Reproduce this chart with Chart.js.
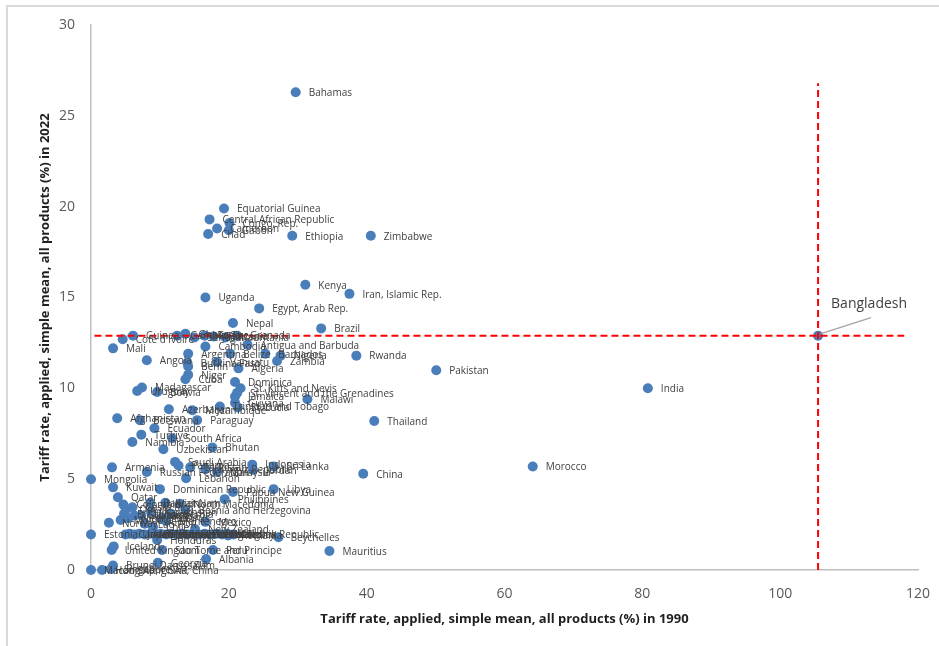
<!DOCTYPE html>
<html>
<head>
<meta charset="utf-8">
<script src="https://cdn.jsdelivr.net/npm/chart.js@4.4.0/dist/chart.umd.min.js"></script>
<style>
  body { margin: 0; overflow: hidden; background: #fff; }
  #frame { position: absolute; left: 6px; top: 5px; width: 1000px; height: 700px; border: 2px solid #d9d9d9; }
  canvas { position: absolute; left: 0; top: 0; }
</style>
</head>
<body>
<div id="frame"></div>
<canvas id="scatter" width="939" height="646"></canvas>
<script>
// countries and their tariff rates (simple mean, %)
var countries = [
  "Bahamas", "Equatorial Guinea", "Central African Republic", "Congo, Rep.", "Cameroon", "Gabon", "Chad",
  "Ethiopia", "Zimbabwe", "Kenya", "Iran, Islamic Rep.", "Uganda", "Egypt, Arab Rep.", "Nepal", "Brazil",
  "Bangladesh", "Rwanda", "Pakistan", "India", "Thailand", "Morocco", "China", "Mauritius", "Seychelles",
  "Libya", "Papua New Guinea", "Philippines",
  "Guinea", "Cote d'Ivoire", "Gambia, The", "Ghana", "Senegal", "Togo", "Tanzania", "Mauritania", "Grenada",
  "Mali", "Cambodia", "Antigua and Barbuda", "Argentina", "Belize", "Barbados", "Nigeria", "Zambia", "Angola",
  "Burkina Faso", "Vanuatu", "Benin", "Algeria", "Niger", "Cuba", "Dominica", "St. Kitts and Nevis",
  "St. Vincent and the Grenadines", "Jamaica", "Malawi", "Madagascar", "Uruguay", "Bolivia", "Guyana",
  "Trinidad and Tobago", "St. Lucia", "Azerbaijan", "Mozambique", "Afghanistan", "Botswana", "Paraguay",
  "Ecuador", "Turkiye", "South Africa", "Namibia", "Uzbekistan", "Bhutan",
  "Armenia", "Russian Federation", "Saudi Arabia", "Panama", "Tajikistan", "Kyrgyz Republic", "Malaysia",
  "Indonesia", "Sri Lanka", "Jordan", "Mongolia", "Lebanon", "Kuwait", "Dominican Republic", "Qatar",
  "Colombia", "Bahrain", "Viet Nam", "North Macedonia", "Bosnia and Herzegovina", "Oman", "Costa Rica",
  "El Salvador", "Guatemala", "Nicaragua", "Moldova", "Ukraine", "Kazakhstan", "Belarus", "Serbia",
  "Montenegro", "Mexico", "Norway", "Lao PDR", "Chile", "New Zealand", "Estonia",
  "Canada", "United States", "Japan", "Australia", "Austria", "Belgium", "Germany", "France", "Italy",
  "Netherlands", "Spain", "Sweden", "Denmark", "Finland", "Portugal", "Ireland", "Greece", "Poland",
  "Hungary", "Czechia", "Slovak Republic", "Romania",
  "Honduras", "Iceland", "United Kingdom", "Sao Tome and Principe", "Peru", "Georgia", "Albania",
  "Macao SAR, China", "Hong Kong SAR, China", "Singapore", "Brunei Darussalam"
];

var tariff1990 = [
  29.7, 19.3, 17.2, 20.1, 18.3, 20.0, 17.0,
  29.2, 40.6, 31.1, 37.5, 16.6, 24.4, 20.6, 33.4,
  105.5, 38.5, 50.1, 80.8, 41.1, 64.1, 39.5, 34.6, 27.2,
  26.5, 20.6, 19.4,
  6.1, 4.6, 12.5, 13.7, 15.0, 16.5, 17.8, 19.5, 21.2,
  3.2, 16.6, 22.7, 14.1, 20.2, 25.3, 27.5, 27.0, 8.1,
  14.0, 18.3, 14.1, 21.4, 14.1, 13.7, 20.9, 21.7,
  21.2, 20.9, 31.4, 7.4, 6.7, 9.6, 20.9,
  18.7, 21.3, 11.3, 14.7, 3.8, 7.1, 15.4,
  9.2, 7.3, 11.8, 6.0, 10.5, 17.6,
  3.05, 8.1, 12.2, 12.7, 14.4, 16.6, 18.3,
  23.4, 26.5, 23.5, 0.0, 13.8, 3.2, 10.0, 3.9,
  4.7, 8.6, 10.8, 12.9, 13.7, 5.1, 6.0,
  4.8, 6.3, 5.4, 4.3, 7.3, 8.7, 10.2, 11.6,
  10.9, 16.6, 2.6, 7.8, 9.0, 15.1, 0.0,
  5.0, 5.6, 6.3, 7.0, 7.8, 8.6, 9.3, 10.1, 10.9,
  11.6, 12.4, 13.2, 14.0, 14.8, 15.7, 16.5, 17.3, 18.2,
  19.0, 19.8, 20.7, 19.9,
  9.6, 3.3, 3.0, 10.3, 17.7, 9.7, 16.7,
  0.0, 1.6, 2.9, 3.2
];

var tariff2022 = [
  26.3, 19.9, 19.3, 19.1, 18.8, 18.7, 18.5,
  18.4, 18.4, 15.7, 15.2, 15.0, 14.4, 13.6, 13.3,
  12.9, 11.8, 11.0, 10.0, 8.2, 5.7, 5.3, 1.05, 1.8,
  4.45, 4.3, 3.9,
  12.9, 12.7, 12.9, 13.0, 12.8, 12.9, 12.85, 12.8, 12.9,
  12.2, 12.3, 12.4, 11.9, 11.9, 11.9, 11.8, 11.5, 11.55,
  11.4, 11.45, 11.2, 11.1, 10.75, 10.5, 10.35, 10.0,
  9.75, 9.55, 9.4, 10.05, 9.85, 9.8, 9.2,
  9.0, 8.95, 8.85, 8.8, 8.35, 8.25, 8.25,
  7.8, 7.45, 7.25, 7.05, 6.65, 6.75,
  5.65, 5.4, 5.95, 5.75, 5.65, 5.55, 5.4,
  5.8, 5.7, 5.5, 5.0, 5.05, 4.55, 4.45, 4.0,
  3.6, 3.7, 3.7, 3.65, 3.3, 3.35, 3.45,
  3.1, 3.0, 2.85, 2.75, 3.0, 3.2, 2.85, 3.1,
  2.7, 2.65, 2.6, 2.55, 2.35, 2.25, 1.95,
  1.95, 2.0, 1.95, 2.0, 1.95, 2.0, 1.95, 2.0, 1.95,
  2.0, 1.95, 2.0, 1.95, 2.0, 1.95, 2.0, 1.95, 2.0,
  1.95, 2.0, 1.95, 1.9,
  1.65, 1.3, 1.1, 1.1, 1.1, 0.4, 0.6,
  0.0, 0.0, 0.05, 0.25
];

// Bangladesh reference lines
var refLineX = [0.5, 118];
var refLineY = [12.9, 12.9];
var vertLineX = [105.5, 105.5];
var vertLineY = [0, 26.8];

var xTicks = [0, 20, 40, 60, 80, 100, 120];
var yTicks = [0, 5, 10, 15, 20, 25, 30];

var pointLabels = {
  id: 'pointLabels',
  afterDatasetsDraw: function(chart) {
    var meta = chart.getDatasetMeta(0);
    var c = chart.ctx;
    c.save();
    c.fillStyle = '#404040';
    c.textBaseline = 'middle';
    meta.data.forEach(function(pt, i) {
      var name = countries[i];
      if (name === 'Bangladesh') {
        c.strokeStyle = '#a6a6a6';
        c.lineWidth = 1.5;
        c.beginPath();
        c.moveTo(pt.x + 3, pt.y - 2);
        c.lineTo(pt.x + 53, pt.y - 18);
        c.stroke();
        c.font = '14px "Open Sans"';
        c.fillText(name, pt.x + 13, pt.y - 32);
        return;
      }
      c.font = '10px "Open Sans"';
      c.fillText(name, pt.x + 13, pt.y + 1);
    });
    c.restore();
  }
};

var ctx = document.getElementById('scatter');
var chart = new Chart(ctx, {
  type: 'scatter',
  data: {
    datasets: [
      {
        label: 'Countries',
        data: countries.map(function(n, i) { return { x: tariff1990[i], y: tariff2022[i] }; }),
        backgroundColor: '#4a7ebb',
        borderWidth: 0,
        pointRadius: 5,
        pointHoverRadius: 5,
        clip: false,
        order: 2
      },
      {
        label: '2022 Bangladesh',
        type: 'line',
        data: refLineX.map(function(x, i) { return { x: x, y: refLineY[i] }; }),
        borderColor: '#ff0000',
        borderWidth: 2,
        borderDash: [7, 4],
        pointRadius: 0,
        fill: false,
        order: 1
      },
      {
        label: '1990 Bangladesh',
        type: 'line',
        data: vertLineX.map(function(x, i) { return { x: x, y: vertLineY[i] }; }),
        borderColor: '#ff0000',
        borderWidth: 2,
        borderDash: [7, 4],
        pointRadius: 0,
        fill: false,
        order: 1
      }
    ]
  },
  options: {
    responsive: false,
    animation: false,
    layout: { padding: { top: 25, right: 21, left: 0, bottom: 0 } },
    plugins: { legend: { display: false }, tooltip: { enabled: false } },
    scales: {
      x: {
        type: 'linear',
        min: 0,
        max: 120,
        afterBuildTicks: function(axis) { axis.ticks = xTicks.map(function(v) { return { value: v }; }); },
        afterFit: function(axis) { axis.height = 76; },
        grid: { display: false },
        border: { display: true, color: '#bfbfbf', width: 1.5 },
        ticks: { color: '#595959', font: { family: 'Open Sans', size: 14 }, padding: 8 },
        title: {
          display: true,
          text: 'Tariff rate, applied, simple mean, all products (%) in 1990',
          color: '#1f1f1f',
          font: { family: 'Open Sans', size: 13, weight: 'bold' },
          padding: { top: 0, bottom: 19 }
        }
      },
      y: {
        type: 'linear',
        min: 0,
        max: 30,
        afterBuildTicks: function(axis) { axis.ticks = yTicks.map(function(v) { return { value: v }; }); },
        afterFit: function(axis) { axis.width = 91; },
        grid: { display: false },
        border: { display: true, color: '#bfbfbf', width: 1.5 },
        ticks: { color: '#595959', font: { family: 'Open Sans', size: 14 }, padding: 8 },
        title: {
          display: true,
          text: 'Tariff rate, applied, simple mean, all products (%) in 2022',
          color: '#1f1f1f',
          font: { family: 'Open Sans', size: 13, weight: 'bold' },
          padding: { top: 37, bottom: 0 }
        }
      }
    }
  },
  plugins: [pointLabels]
});
</script>
</body>
</html>
